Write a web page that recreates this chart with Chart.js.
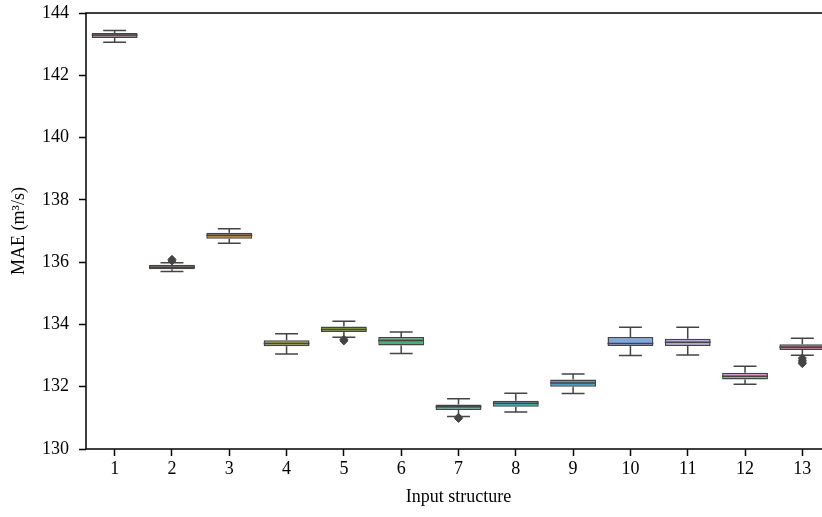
<!DOCTYPE html>
<html>
<head>
<meta charset="utf-8">
<script src="https://cdn.jsdelivr.net/npm/chart.js@4.4.1/dist/chart.umd.min.js"></script>
<style>
  html, body { margin: 0; padding: 0; background: #fff; overflow: hidden; width: 822px; height: 517px; }
  #wrap { width: 840px; height: 517px; }
</style>
</head>
<body>
<div id="wrap"><canvas id="c" width="840" height="517"></canvas></div>
<script>
const categories = ['1','2','3','4','5','6','7','8','9','10','11','12','13'];
const whiskerLow  = [143.06,135.70,136.61,133.05,133.59,133.07,131.04,131.19,131.78,133.00,133.02,132.08,133.01];
const quartile1   = [143.20,135.77,136.75,133.30,133.76,133.32,131.25,131.36,132.00,133.31,133.31,132.23,133.18];
const medians     = [143.29,135.84,136.86,133.39,133.84,133.48,131.36,131.47,132.12,133.39,133.43,132.34,133.27];
const quartile3   = [143.36,135.92,136.94,133.49,133.93,133.60,131.43,131.55,132.23,133.60,133.54,132.45,133.36];
const whiskerHigh = [143.44,135.98,137.07,133.70,134.10,133.76,131.61,131.79,132.41,133.91,133.91,132.66,133.56];
const outlierCats = ['2','2','5','5','7','7','13','13','13','13'];
const outlierVals = [136.04,136.09,133.47,133.52,130.98,131.02,132.92,132.85,132.79,132.74];
const yTicks = [130,132,134,136,138,140,142,144];
const boxColors = ['#a0687c','#8a6a4c','#a88a44','#a6a34a','#8fab4a','#4fad78','#47ab95','#48a5a5','#4aa0c5','#7ea8e5','#b3a0ea','#dc82dc','#b0627d'];
const edge = '#444444';

const whiskerPlugin = {
  id: 'whiskers',
  afterDatasetsDraw(chart) {
    const ctx = chart.ctx, xs = chart.scales.x, ys = chart.scales.y;
    const step = xs.getPixelForValue(1) - xs.getPixelForValue(0);
    ctx.save();
    ctx.strokeStyle = edge;
    ctx.lineWidth = 1.5;
    categories.forEach((c, i) => {
      const x = xs.getPixelForValue(i);
      const bw = step * 0.4, cw = step * 0.2;
      const pLo = ys.getPixelForValue(whiskerLow[i]);
      const pHi = ys.getPixelForValue(whiskerHigh[i]);
      const pQ1 = ys.getPixelForValue(quartile1[i]);
      const pQ3 = ys.getPixelForValue(quartile3[i]);
      const pM = ys.getPixelForValue(medians[i]);
      ctx.beginPath();
      ctx.moveTo(x, pQ3); ctx.lineTo(x, pHi);
      ctx.moveTo(x - cw, pHi); ctx.lineTo(x + cw, pHi);
      ctx.moveTo(x, pQ1); ctx.lineTo(x, pLo);
      ctx.moveTo(x - cw, pLo); ctx.lineTo(x + cw, pLo);
      ctx.moveTo(x - bw, pM); ctx.lineTo(x + bw, pM);
      ctx.stroke();
    });
    ctx.restore();
  }
};

const framePlugin = {
  id: 'frame',
  afterDraw(chart) {
    const a = chart.chartArea, ctx = chart.ctx;
    ctx.save();
    ctx.strokeStyle = '#000';
    ctx.lineWidth = 1.5;
    ctx.strokeRect(a.left, a.top, a.right - a.left, a.bottom - a.top);
    ctx.restore();
  }
};

const font = { family: '"Liberation Serif", "Times New Roman", serif', size: 18 };

new Chart(document.getElementById('c'), {
  type: 'bar',
  data: {
    labels: categories,
    datasets: [
      {
        type: 'bar',
        data: categories.map((c, i) => [quartile1[i], quartile3[i]]),
        backgroundColor: boxColors,
        borderColor: edge,
        borderWidth: 1.5,
        borderSkipped: false,
        barPercentage: 0.8,
        categoryPercentage: 1.0,
        order: 2
      },
      {
        type: 'line',
        showLine: false,
        data: outlierCats.map((c, i) => ({ x: c, y: outlierVals[i] })),
        pointStyle: 'rectRot',
        pointRadius: 4,
        pointBackgroundColor: edge,
        pointBorderColor: edge,
        order: 1
      }
    ]
  },
  options: {
    responsive: false,
    animation: false,
    devicePixelRatio: 1,
    layout: { padding: { top: 13, right: 9, left: 0, bottom: 0 } },
    plugins: { legend: { display: false }, tooltip: { enabled: false } },
    scales: {
      x: {
        type: 'category',
        offset: true,
        grid: { display: true, offset: false, drawOnChartArea: false, drawTicks: true, tickLength: 7, tickWidth: 1.5, tickColor: '#000' },
        border: { display: false },
        ticks: { color: '#000', font: font, padding: 2, maxRotation: 0 },
        title: { display: true, text: 'Input structure', color: '#000', font: font, padding: { top: 4, bottom: 9 } },
        afterFit(s) { s.height = 68; s.paddingLeft = 0; s.paddingRight = 0; }
      },
      y: {
        type: 'linear',
        min: 130, max: 144,
        afterBuildTicks(s) { s.ticks = yTicks.map(v => ({ value: v })); },
        grid: { display: true, drawOnChartArea: false, drawTicks: true, tickLength: 7, tickWidth: 1.5, tickColor: '#000' },
        border: { display: false },
        ticks: { color: '#000', font: font, padding: 10 },
        title: { display: true, text: 'MAE (m³/s)', color: '#000', font: font, padding: { top: 8, bottom: 0 } },
        afterFit(s) { s.width = 86; s.paddingTop = 0; s.paddingBottom = 0; }
      }
    }
  },
  plugins: [whiskerPlugin, framePlugin]
});
</script>
</body>
</html>
